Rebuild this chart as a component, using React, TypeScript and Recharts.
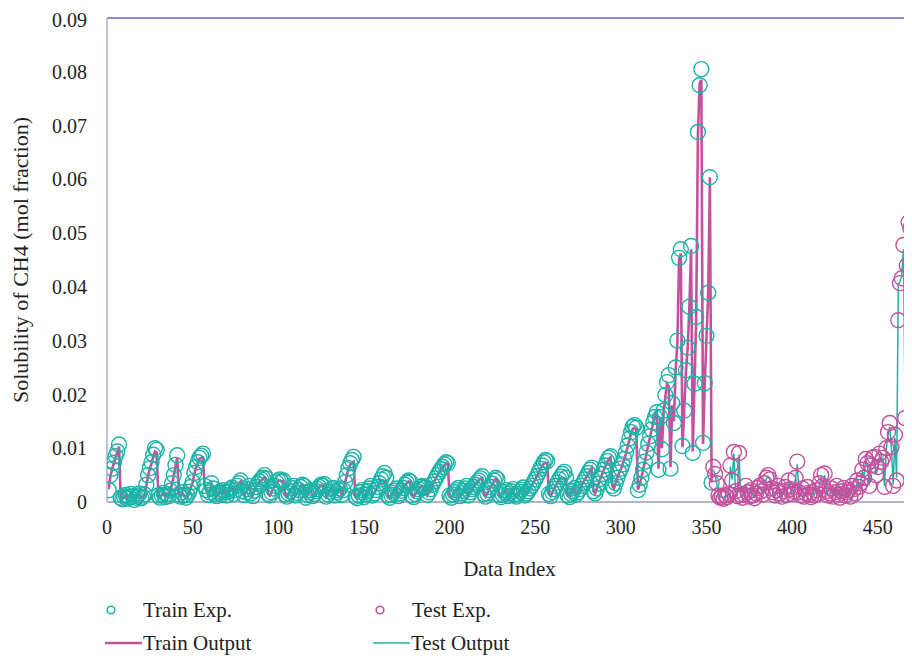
import { ComposedChart, Scatter, Line, XAxis, YAxis, ReferenceLine } from "recharts";

const TEAL = "#1cb3a8";
const MAGENTA = "#c4519d";
const INK = "#231f20";
const FONT = "'Liberation Serif', 'DejaVu Serif', serif";

// data index of the first point in each set
const trainStart = 1;
const testStart = 354;

// experimental solubility, training set (index 1..353)
const trainExp = [
  .0022,.0050,.0062,.0073,.0085,.0094,.0107,.0008,.0005,.0010,
  .0013,.0006,.0009,.0015,.0011,.0004,.0008,.0012,.0016,.0007,
  .0010,.0014,.0032,.0050,.0063,.0074,.0088,.0100,.0097,.0012,
  .0008,.0013,.0017,.0009,.0015,.0011,.0021,.0035,.0050,.0069,
  .0087,.0014,.0010,.0018,.0012,.0008,.0013,.0019,.0028,.0037,
  .0054,.0065,.0074,.0082,.0086,.0090,.0030,.0022,.0013,.0018,
  .0035,.0025,.0015,.0011,.0017,.0020,.0014,.0022,.0018,.0012,
  .0019,.0024,.0027,.0015,.0022,.0030,.0035,.0040,.0020,.0013,
  .0018,.0024,.0030,.0016,.0011,.0021,.0028,.0034,.0038,.0042,
  .0045,.0050,.0044,.0015,.0012,.0018,.0025,.0030,.0036,.0040,
  .0042,.0038,.0040,.0014,.0010,.0016,.0020,.0026,.0030,.0012,
  .0017,.0022,.0028,.0032,.0030,.0008,.0013,.0018,.0022,.0011,
  .0015,.0020,.0024,.0028,.0032,.0030,.0033,.0010,.0014,.0019,
  .0024,.0026,.0012,.0018,.0022,.0025,.0013,.0022,.0037,.0050,
  .0063,.0072,.0078,.0084,.0010,.0007,.0012,.0018,.0022,.0009,
  .0014,.0020,.0025,.0030,.0012,.0016,.0022,.0028,.0035,.0042,
  .0048,.0054,.0045,.0012,.0008,.0013,.0017,.0021,.0025,.0011,
  .0016,.0021,.0026,.0032,.0036,.0040,.0038,.0012,.0009,.0015,
  .0020,.0024,.0028,.0030,.0026,.0028,.0013,.0018,.0024,.0032,
  .0038,.0044,.0050,.0056,.0061,.0065,.0070,.0074,.0072,.0012,
  .0008,.0014,.0018,.0022,.0026,.0011,.0016,.0021,.0025,.0030,
  .0012,.0018,.0024,.0028,.0032,.0036,.0040,.0044,.0048,.0015,
  .0010,.0016,.0022,.0028,.0034,.0040,.0045,.0042,.0013,.0009,
  .0014,.0018,.0022,.0011,.0016,.0020,.0024,.0013,.0010,.0015,
  .0019,.0023,.0027,.0012,.0016,.0020,.0025,.0030,.0036,.0042,
  .0048,.0055,.0062,.0068,.0074,.0078,.0076,.0015,.0011,.0018,
  .0024,.0030,.0036,.0042,.0047,.0052,.0056,.0045,.0012,.0009,
  .0015,.0020,.0026,.0014,.0018,.0024,.0030,.0036,.0042,.0048,
  .0054,.0060,.0064,.0020,.0016,.0025,.0034,.0043,.0052,.0060,
  .0068,.0076,.0082,.0085,.0030,.0025,.0035,.0045,.0055,.0062,
  .0070,.0080,.0092,.0105,.0118,.0130,.0140,.0143,.0138,.0022,
  .0032,.0045,.0060,.0075,.0092,.0108,.0122,.0135,.0148,.0158,
  .0167,.0060,.0158,.0098,.0170,.0199,.0223,.0236,.0062,.0184,
  .0147,.0250,.0300,.0454,.0470,.0104,.0170,.0245,.0287,.0363,
  .0476,.0091,.0220,.0344,.0688,.0775,.0805,.0110,.0221,.0309,
  .0389,.0604,.0036,
];

// model output, training set
const trainOut = [
  .0024,.0048,.0061,.0072,.0083,.0092,.0103,.0009,.0006,.0010,
  .0013,.0007,.0009,.0014,.0011,.0005,.0008,.0012,.0015,.0008,
  .0010,.0014,.0031,.0049,.0062,.0072,.0085,.0094,.0092,.0012,
  .0009,.0013,.0016,.0009,.0015,.0011,.0021,.0034,.0049,.0067,
  .0082,.0014,.0010,.0017,.0012,.0008,.0013,.0019,.0028,.0036,
  .0053,.0064,.0072,.0080,.0082,.0083,.0030,.0022,.0013,.0018,
  .0034,.0025,.0015,.0011,.0017,.0020,.0014,.0022,.0018,.0012,
  .0019,.0024,.0027,.0015,.0022,.0029,.0034,.0038,.0020,.0013,
  .0018,.0024,.0029,.0016,.0011,.0021,.0028,.0033,.0037,.0040,
  .0043,.0046,.0043,.0015,.0012,.0018,.0025,.0030,.0035,.0039,
  .0040,.0038,.0039,.0014,.0010,.0016,.0020,.0026,.0029,.0012,
  .0017,.0022,.0027,.0031,.0030,.0008,.0013,.0018,.0022,.0011,
  .0015,.0020,.0024,.0028,.0031,.0030,.0032,.0010,.0014,.0019,
  .0024,.0026,.0012,.0018,.0022,.0025,.0013,.0022,.0036,.0049,
  .0061,.0069,.0073,.0075,.0010,.0007,.0012,.0018,.0022,.0009,
  .0014,.0020,.0025,.0030,.0012,.0016,.0022,.0028,.0034,.0040,
  .0040,.0037,.0036,.0012,.0008,.0013,.0017,.0021,.0025,.0011,
  .0016,.0021,.0026,.0031,.0035,.0038,.0037,.0012,.0009,.0015,
  .0020,.0024,.0028,.0030,.0026,.0028,.0013,.0018,.0024,.0032,
  .0038,.0044,.0050,.0055,.0060,.0064,.0068,.0072,.0071,.0012,
  .0008,.0014,.0018,.0022,.0026,.0011,.0016,.0021,.0025,.0030,
  .0012,.0018,.0024,.0028,.0032,.0036,.0040,.0043,.0044,.0015,
  .0010,.0016,.0022,.0028,.0033,.0039,.0043,.0041,.0013,.0009,
  .0014,.0018,.0022,.0011,.0016,.0020,.0024,.0013,.0010,.0015,
  .0019,.0023,.0027,.0012,.0016,.0020,.0025,.0030,.0036,.0042,
  .0048,.0054,.0061,.0066,.0071,.0073,.0072,.0015,.0011,.0018,
  .0024,.0030,.0036,.0041,.0044,.0045,.0044,.0042,.0012,.0009,
  .0015,.0020,.0026,.0014,.0018,.0024,.0030,.0036,.0042,.0047,
  .0052,.0058,.0063,.0020,.0016,.0025,.0034,.0043,.0051,.0059,
  .0066,.0074,.0080,.0083,.0030,.0025,.0035,.0045,.0054,.0061,
  .0069,.0079,.0090,.0103,.0116,.0128,.0136,.0138,.0135,.0023,
  .0033,.0045,.0060,.0074,.0090,.0106,.0120,.0134,.0150,.0162,
  .0167,.0062,.0155,.0100,.0168,.0196,.0220,.0215,.0065,.0180,
  .0150,.0245,.0295,.0450,.0462,.0102,.0172,.0242,.0285,.0360,
  .0470,.0094,.0218,.0340,.0680,.0778,.0785,.0108,.0220,.0305,
  .0385,.0604,.0036,
];

// experimental solubility, test set (index 354..470)
const testExp = [
  .0065,.0052,.0035,.0012,.0008,.0010,.0006,
  .0012,.0009,.0015,.0068,.0040,.0093,.0020,.0011,.0091,.0013,
  .0008,.0014,.0030,.0018,.0010,.0022,.0012,.0007,.0016,.0026,
  .0030,.0020,.0014,.0035,.0045,.0050,.0042,.0025,.0018,.0012,
  .0022,.0030,.0016,.0010,.0020,.0028,.0013,.0040,.0024,.0015,
  .0020,.0045,.0075,.0018,.0012,.0025,.0010,.0016,.0028,.0014,
  .0009,.0018,.0012,.0022,.0015,.0035,.0050,.0030,.0053,.0020,
  .0012,.0016,.0025,.0010,.0018,.0030,.0014,.0008,.0020,.0026,
  .0012,.0018,.0022,.0010,.0030,.0024,.0016,.0040,.0028,.0035,
  .0060,.0045,.0080,.0072,.0030,.0068,.0082,.0084,.0050,.0065,
  .0090,.0075,.0082,.0028,.0100,.0130,.0147,.0102,.0030,.0125,
  .0040,.0338,.0407,.0416,.0478,.0156,.0440,.0520,.0510,.0505,
];

// model output, test set
const testOut = [
  .0060,.0050,.0034,.0013,.0009,.0010,.0007,
  .0012,.0010,.0016,.0066,.0042,.0090,.0022,.0012,.0088,.0014,
  .0009,.0014,.0029,.0019,.0011,.0022,.0013,.0008,.0016,.0025,
  .0029,.0021,.0015,.0034,.0043,.0047,.0041,.0025,.0018,.0013,
  .0022,.0029,.0016,.0011,.0020,.0027,.0014,.0038,.0024,.0016,
  .0020,.0044,.0070,.0019,.0013,.0025,.0011,.0016,.0027,.0015,
  .0010,.0018,.0013,.0022,.0016,.0034,.0047,.0030,.0050,.0021,
  .0013,.0016,.0025,.0011,.0018,.0029,.0015,.0009,.0020,.0026,
  .0013,.0018,.0022,.0011,.0029,.0024,.0017,.0038,.0028,.0034,
  .0058,.0046,.0076,.0070,.0031,.0066,.0079,.0081,.0051,.0064,
  .0086,.0074,.0080,.0030,.0098,.0124,.0140,.0100,.0032,.0120,
  .0045,.0405,.0410,.0420,.0470,.0160,.0445,.0512,.0505,.0500,
];

const xTicks = [0, 50, 100, 150, 200, 250, 300, 350, 400, 450];
const yTicks = [0, 0.01, 0.02, 0.03, 0.04, 0.05, 0.06, 0.07, 0.08, 0.09];

const trainRows = trainExp.map((v, i) => ({ idx: trainStart + i, exp: v, out: trainOut[i] }));
const testRows = testExp.map((v, i) => ({ idx: testStart + i, exp: v, out: testOut[i] }));

const ring = (color: string) => (p: any) =>
  <circle cx={p.cx} cy={p.cy} r={7.5} fill="none" stroke={color} strokeWidth={1.4} />;

const tickStyle = { fill: INK, fontSize: 20, fontFamily: FONT };

function LegendEntry({ x, y, kind, color, text }: { x: number; y: number; kind: "dot" | "line"; color: string; text: string }) {
  return (
    <div style={{ position: "absolute", left: x, top: y - 13, height: 26, display: "flex", alignItems: "center", fontFamily: FONT, fontSize: 21, color: INK, whiteSpace: "nowrap" }}>
      <svg width={38} height={26} style={{ display: "block" }}>
        {kind === "dot"
          ? <circle cx={6} cy={13} r={3.8} fill="none" stroke={color} strokeWidth={1.6} />
          : <line x1={0} y1={13} x2={37} y2={13} stroke={color} strokeWidth={color === MAGENTA ? 2.6 : 1.6} />}
      </svg>
      <span>{text}</span>
    </div>
  );
}

export default function App() {
  return (
    <div style={{ position: "relative", width: 904, height: 648 }}>
      <ComposedChart width={904} height={648} margin={{ top: 10, right: 0, bottom: 74, left: 0 }}>
        <XAxis
          dataKey="idx" type="number" domain={[0, 470]} ticks={xTicks} allowDataOverflow
          tickLine={false} tickMargin={12} height={80} tick={tickStyle}
          axisLine={{ stroke: "#b3b3cb", strokeWidth: 2 }}
          label={{ value: "Data Index", position: "insideBottom", offset: 6, fill: INK, fontSize: 21, fontFamily: FONT }}
        />
        <YAxis
          type="number" domain={[0, 0.09]} ticks={yTicks} width={99}
          tickLine={false} tickMargin={14} tick={tickStyle}
          tickFormatter={(v: number) => (v === 0 ? "0" : v.toFixed(2))}
          axisLine={{ stroke: "#c3c3d8", strokeWidth: 2 }}
          label={{ value: "Solubility of CH4 (mol fraction)", angle: -90, position: "insideLeft", offset: 12, fill: INK, fontSize: 22, fontFamily: FONT, style: { textAnchor: "middle" } }}
        />
        <ReferenceLine y={0.09} stroke="#6c66b2" strokeWidth={1.5} />
        <Scatter name="Train Exp." data={trainRows} dataKey="exp" shape={ring(TEAL)} isAnimationActive={false} />
        <Scatter name="Test Exp." data={testRows} dataKey="exp" shape={ring(MAGENTA)} isAnimationActive={false} />
        <Line name="Train Output" data={trainRows} dataKey="out" type="linear" stroke={MAGENTA} strokeWidth={2.6} dot={false} isAnimationActive={false} />
        <Line name="Test Output" data={testRows} dataKey="out" type="linear" stroke={TEAL} strokeWidth={1.5} dot={false} isAnimationActive={false} />
      </ComposedChart>
      <LegendEntry x={97} y={602} kind="dot" color={TEAL} text="Train Exp." />
      <LegendEntry x={366} y={602} kind="dot" color={MAGENTA} text="Test Exp." />
      <LegendEntry x={97} y={635} kind="line" color={MAGENTA} text="Train Output" />
      <LegendEntry x={365} y={635} kind="line" color={TEAL} text="Test Output" />
    </div>
  );
}
